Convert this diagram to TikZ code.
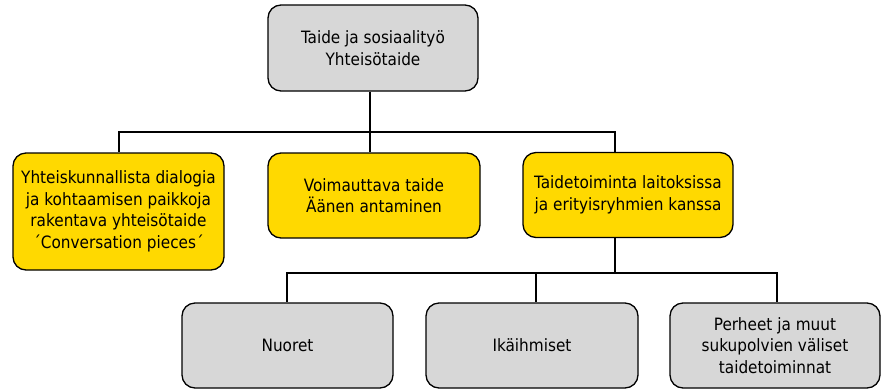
\documentclass[tikz,border=0pt]{standalone}
\usepackage{fontspec}
\setmainfont{DejaVu Sans Condensed}
\definecolor{boxgray}{RGB}{215,215,215}
\definecolor{boxyellow}{RGB}{255,217,0}
\begin{document}
\begin{tikzpicture}[x=1pt,y=1pt,
  box/.style={draw=black, line width=1.3pt, rounded corners=13pt, align=center,
    font=\fontsize{17}{21.5}\selectfont, inner sep=2pt},
  graybox/.style={box, fill=boxgray},
  yellowbox/.style={box, fill=boxyellow},
  conn/.style={draw=black, line width=2.6pt}]
\useasboundingbox (0,0) rectangle (883,-389);
\fill[white] (0,0) rectangle (883,-389);

\node[graybox, minimum width=210, minimum height=86] (top) at (373,-48) {Taide ja sosiaalityö\\Yhteisötaide};

\node[yellowbox, minimum width=211, minimum height=117] (b1) at (118.5,-211.5) {Yhteiskunnallista dialogia\\ja kohtaamisen paikkoja\\rakentava yhteisötaide\\´Conversation pieces´};
\node[yellowbox, minimum width=212, minimum height=85] (b2) at (374,-195.5) {Voimauttava taide\\Äänen antaminen};
\node[yellowbox, minimum width=210, minimum height=85] (b3) at (628,-195) {Taidetoiminta laitoksissa\\ja erityisryhmien kanssa};

\node[graybox, minimum width=211, minimum height=85] (c1) at (287.5,-345.5) {Nuoret};
\node[graybox, minimum width=212, minimum height=85] (c2) at (532,-345.5) {Ikäihmiset};
\node[graybox, minimum width=210, minimum height=85] (c3) at (775,-345.5) {Perheet ja muut\\sukupolvien väliset\\taidetoiminnat};

\coordinate (h1L) at (119,-132);
\coordinate (h1M) at (370,-132);
\coordinate (h1R) at (615,-132);
\coordinate (h2L) at (287,-273);
\coordinate (h2M) at (536,-273);
\coordinate (h2S) at (615,-273);
\coordinate (h2R) at (777,-273);

\begin{scope}[on background layer/.style={}]
\draw[conn] (h1M |- top.south) -- (h1M);
\draw[conn, line cap=rect] (h1L) -- (h1R);
\draw[conn] (h1L) -- (h1L |- b1.north);
\draw[conn] (h1M) -- (h1M |- b2.north);
\draw[conn] (h1R) -- (h1R |- b3.north);
\draw[conn] (h2S |- b3.south) -- (h2S);
\draw[conn, line cap=rect] (h2L) -- (h2R);
\draw[conn] (h2L) -- (h2L |- c1.north);
\draw[conn] (h2M) -- (h2M |- c2.north);
\draw[conn] (h2R) -- (h2R |- c3.north);
\end{scope}
\end{tikzpicture}
\end{document}
